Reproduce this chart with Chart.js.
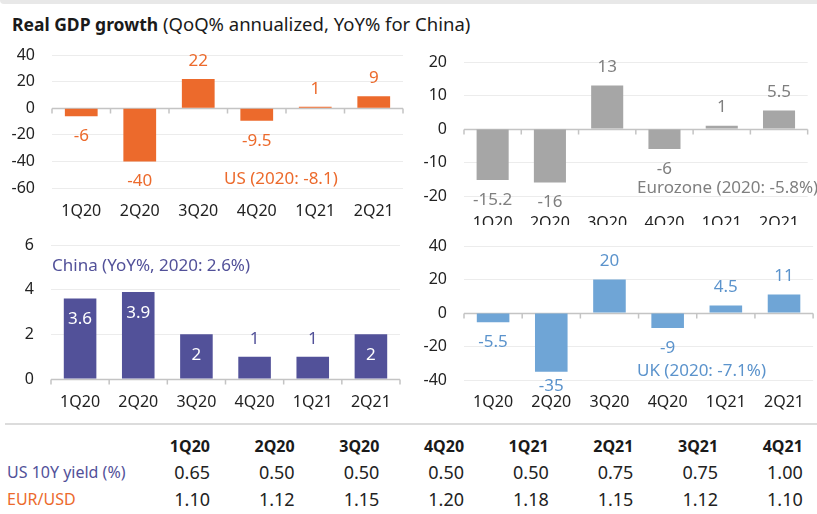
<!DOCTYPE html>
<html>
<head>
<meta charset="utf-8">
<script src="https://cdn.jsdelivr.net/npm/chart.js@4.4.1/dist/chart.umd.min.js"></script>
<style>
  body { margin: 0; background: #fff; font-family: "Noto Sans", sans-serif; }
  #page { position: relative; width: 817px; height: 514px; overflow: hidden; }
  .box { position: absolute; }
  .note { position: absolute; font-size: 17px; line-height: 24px; white-space: nowrap; }
  .row { position: absolute; left: 0; display: flex; width: 817px; }
  .row div { width: 84.7px; text-align: right; flex: none; }
  .row div.lbl { width: 125.3px; text-align: left; padding-left: 7px; box-sizing: border-box; white-space: nowrap; overflow: visible; }
</style>
</head>
<body>
<div id="page">
  <div style="position:absolute;left:0;top:0;width:817px;height:4px;background:#e8e8e8;border-bottom-left-radius:6px;"></div>
  <div style="position:absolute;left:12px;top:11px;font-size:18.5px;line-height:26px;color:#1a1a1a;white-space:nowrap;">
    <b style="font-size:17.5px;">Real GDP growth</b> (QoQ% annualized, YoY% for China)
  </div>

  <div class="box" style="left:0;top:43px;width:415px;height:182px;"><canvas id="usChart"></canvas></div>
  <div class="box" style="left:410px;top:43px;width:407px;height:182px;overflow:hidden;">
    <div style="position:relative;width:407px;height:200px;"><canvas id="ezChart"></canvas></div>
  </div>
  <div class="box" style="left:0;top:232px;width:415px;height:185px;"><canvas id="cnChart"></canvas></div>
  <div class="box" style="left:410px;top:232px;width:407px;height:185px;"><canvas id="ukChart"></canvas></div>

  <div class="note" style="left:224px;top:166px;color:#ec6a2c;">US (2020: -8.1)</div>
  <div class="note" style="left:637px;top:175px;color:#7f7f7f;">Eurozone (2020: -5.8%)</div>
  <div class="note" style="left:52px;top:253px;color:#525199;">China (YoY%, 2020: 2.6%)</div>
  <div class="note" style="left:637px;top:358px;color:#5b93cc;">UK (2020: -7.1%)</div>

  <div style="position:absolute;left:5px;top:423px;width:812px;height:2px;background:#dcdcdc;"></div>
  <div id="tabla"></div>
</div>

<script>
// datos de las gráficas
const trimestres = ["1Q20", "2Q20", "3Q20", "4Q20", "1Q21", "2Q21"];
const pibUS = [-6, -40, 22, -9.5, 1, 9];
const pibEurozona = [-15.2, -16, 13, -6, 1, 5.5];
const pibChina = [3.6, 3.9, 2, 1, 1, 2];
const pibUK = [-5.5, -35, 20, -9, 4.5, 11];

// datos de la tabla
const trimestresTabla = ["1Q20", "2Q20", "3Q20", "4Q20", "1Q21", "2Q21", "3Q21", "4Q21"];
const bonoUS10Y = ["0.65", "0.50", "0.50", "0.50", "0.50", "0.75", "0.75", "1.00"];
const eurUsd = ["1.10", "1.12", "1.15", "1.20", "1.18", "1.15", "1.12", "1.10"];

const fuente = '"Noto Sans", sans-serif';

// etiquetas de valor encima / debajo / dentro de las barras
const etiquetas = {
    id: "etiquetas",
    afterDatasetsDraw(chart, args, opts) {
        const ctx = chart.ctx;
        const meta = chart.getDatasetMeta(0);
        const valores = chart.data.datasets[0].data;
        const abajo = chart.chartArea.bottom;
        ctx.save();
        ctx.font = "17px " + fuente;
        ctx.textAlign = "center";
        ctx.textBaseline = "middle";
        meta.data.forEach((barra, i) => {
            const v = valores[i];
            let y;
            let color = opts.color;
            if (opts.dentroDesde !== undefined && v >= opts.dentroDesde) {
                y = barra.y + 21;
                color = "#ffffff";
            } else if (v >= 0) {
                y = barra.y - 18;
            } else {
                y = Math.min(barra.y + 20, abajo + 6);
            }
            ctx.fillStyle = color;
            ctx.fillText(String(v), barra.x, y);
        });
        ctx.restore();
    }
};

// linea del cero con marcas entre categorias
const lineaCero = {
    id: "lineaCero",
    beforeDatasetsDraw(chart) {
        const ctx = chart.ctx;
        const area = chart.chartArea;
        const y0 = Math.round(chart.scales.y.getPixelForValue(0)) + 0.5;
        const n = chart.data.labels.length;
        ctx.save();
        ctx.strokeStyle = "#c4c4c4";
        ctx.lineWidth = 1.5;
        ctx.beginPath();
        ctx.moveTo(area.left, y0);
        ctx.lineTo(area.right, y0);
        for (let k = 0; k <= n; k++) {
            const x = area.left + k * (area.right - area.left) / n;
            ctx.moveTo(x, y0);
            ctx.lineTo(x, y0 + 5);
        }
        ctx.stroke();
        ctx.restore();
    }
};

function crearGrafica(id, datos, color, colorTexto, min, max, paso, caja, extra) {
    const ctx = document.getElementById(id).getContext("2d");
    return new Chart(ctx, {
        type: "bar",
        data: {
            labels: trimestres,
            datasets: [{
                data: datos,
                backgroundColor: color,
                borderWidth: 0,
                categoryPercentage: 1,
                barPercentage: 0.56
            }]
        },
        options: {
            responsive: true,
            maintainAspectRatio: false,
            animation: false,
            layout: { padding: { top: caja.arriba, right: caja.derecha, left: 0, bottom: 0 } },
            plugins: {
                legend: { display: false },
                tooltip: { enabled: false },
                etiquetas: Object.assign({ color: colorTexto }, extra || {})
            },
            scales: {
                x: {
                    grid: { display: false, drawTicks: false, tickLength: 0 },
                    border: { display: false },
                    ticks: { color: "#222", font: { family: fuente, size: 16 }, padding: caja.pad },
                    afterFit: s => { s.height = caja.altoX; }
                },
                y: {
                    min: min,
                    max: max,
                    grid: { color: "#ececec", drawTicks: false, lineWidth: 1 },
                    border: { display: false },
                    ticks: { stepSize: paso, color: "#222", font: { family: fuente, size: 16 }, padding: 17 },
                    afterFit: s => {
                        s.width = caja.anchoY;
                        s.paddingTop = 0;
                        s.paddingBottom = 0;
                    }
                }
            }
        },
        plugins: [lineaCero, etiquetas]
    });
}

function crearTabla() {
    const cont = document.getElementById("tabla");
    const filas = [
        { top: 433, lbl: "", vals: trimestresTabla, estilo: "font-weight:bold;font-size:16px;color:#1a1a1a;", lblColor: "" },
        { top: 459, lbl: "US 10Y yield (%)", vals: bonoUS10Y, estilo: "font-size:18px;color:#222;", lblColor: "#525199" },
        { top: 486, lbl: "EUR/USD", vals: eurUsd, estilo: "font-size:18px;color:#222;", lblColor: "#ec6a2c" }
    ];
    filas.forEach(f => {
        const r = document.createElement("div");
        r.className = "row";
        r.style.top = f.top + "px";
        r.style.lineHeight = "26px";
        let html = '<div class="lbl" style="font-size:16px;color:' + f.lblColor + ';">' + f.lbl + "</div>";
        f.vals.forEach(v => {
            html += '<div style="' + f.estilo + '">' + v + "</div>";
        });
        r.innerHTML = html;
        cont.appendChild(r);
    });
}

document.addEventListener("DOMContentLoaded", () => {
    crearGrafica("usChart", pibUS, "#ec6a2c", "#ec6a2c", -60, 40, 20,
        { arriba: 12, derecha: 12, altoX: 37, anchoY: 52, pad: 14 });
    crearGrafica("ezChart", pibEurozona, "#a6a6a6", "#7f7f7f", -20, 20, 10,
        { arriba: 19, derecha: 0, altoX: 47, anchoY: 54, pad: 18 });
    crearGrafica("cnChart", pibChina, "#525199", "#525199", 0, 6, 2,
        { arriba: 13, derecha: 15, altoX: 38, anchoY: 51, pad: 14 }, { dentroDesde: 2 });
    crearGrafica("ukChart", pibUK, "#6fa5d6", "#5b93cc", -40, 40, 20,
        { arriba: 14, derecha: 0, altoX: 37, anchoY: 54, pad: 13 });
    crearTabla();
});
</script>
</body>
</html>
